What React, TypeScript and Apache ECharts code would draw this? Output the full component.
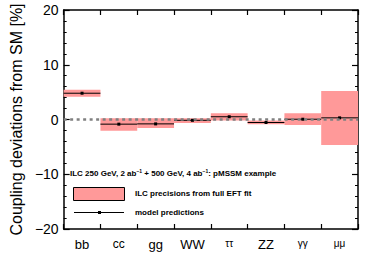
import React, { useEffect, useRef } from "react";
import * as echarts from "echarts";

const categories = ["bb", "cc", "gg", "WW", "ττ", "ZZ", "γγ", "μμ"];
const predictions = [4.8, -0.85, -0.8, -0.15, 0.5, -0.55, 0.05, 0.3];
const precisionLow = [4.15, -2.05, -1.55, -0.65, -0.2, -0.85, -1.0, -4.65];
const precisionHigh = [5.45, 0.25, 0.25, 0.25, 1.15, -0.2, 1.15, 5.2];
const yTicks = [-20, -10, 0, 10, 20];

const FONT = "Liberation Sans";
const small = new Set(["ττ", "γγ", "μμ"]);

export default function App() {
  const ref = useRef<HTMLDivElement>(null);
  useEffect(() => {
    if (!ref.current) return;
    const chart = echarts.init(ref.current, null, { renderer: "svg" });
    const boxData = categories.map((_, i) => [i, precisionLow[i], precisionHigh[i]]);
    const predData = categories.map((_, i) => [i, predictions[i]]);
    const axisLine = { show: true, onZero: false, lineStyle: { color: "#000", width: 1.5 } };
    chart.setOption({
      animation: false,
      textStyle: { fontFamily: FONT },
      grid: { left: 51, right: 7, top: 10, bottom: 28 },
      xAxis: [
        {
          type: "category",
          data: categories,
          position: "bottom",
          axisLine,
          axisTick: { show: true, inside: true, length: 5, lineStyle: { color: "#000", width: 1.2 } },
          axisLabel: {
            interval: 0,
            margin: 9,
            formatter: (v: string) =>
              small.has(v) ? `{s|${v}}` : v === "cc" ? `{c|${v}}` : `{n|${v}}`,
            rich: {
              n: { fontSize: 13, fontFamily: FONT, color: "#000" },
              c: { fontSize: 12, fontFamily: FONT, color: "#000", padding: [0, 0, 3, 0] },
              s: { fontSize: 10, fontFamily: FONT, color: "#000", padding: [0, 0, 4, 0] },
            },
          },
          splitLine: { show: false },
        },
        {
          type: "category",
          data: categories,
          position: "top",
          axisLine,
          axisTick: { show: true, inside: true, length: 5, lineStyle: { color: "#000", width: 1.2 } },
          axisLabel: { show: false },
          splitLine: { show: false },
        },
      ],
      yAxis: [
        {
          type: "value",
          min: yTicks[0],
          max: yTicks[yTicks.length - 1],
          interval: 10,
          position: "left",
          name: "Coupling deviations from SM [%]",
          nameLocation: "middle",
          nameGap: 38,
          nameTextStyle: { fontSize: 16, fontFamily: FONT, color: "#000" },
          axisLine,
          axisTick: { show: true, inside: true, length: 6, lineStyle: { color: "#000", width: 1.2 } },
          minorTick: { show: true, splitNumber: 5, length: 3, lineStyle: { color: "#000", width: 1 } },
          axisLabel: {
            fontSize: 14,
            color: "#000",
            margin: 5,
            formatter: (v: number) => String(v).replace("-", "\u2212"),
          },
          splitLine: { show: false },
        },
        {
          type: "value",
          min: yTicks[0],
          max: yTicks[yTicks.length - 1],
          interval: 10,
          position: "right",
          axisLine,
          axisTick: { show: true, inside: true, length: 6, lineStyle: { color: "#000", width: 1.2 } },
          minorTick: { show: true, splitNumber: 5, length: 3, lineStyle: { color: "#000", width: 1 } },
          axisLabel: { show: false },
          splitLine: { show: false },
        },
      ],
      series: [
        {
          type: "custom",
          name: "ILC precisions from full EFT fit",
          z: 2,
          data: boxData,
          renderItem: (params: any, api: any) => {
            const i = api.value(0);
            const lo = api.coord([i, api.value(1)]);
            const hi = api.coord([i, api.value(2)]);
            const bw = api.size([1, 0])[0];
            return {
              type: "rect",
              shape: { x: lo[0] - bw / 2, y: hi[1], width: bw, height: lo[1] - hi[1] },
              style: { fill: "#ff9999" },
            };
          },
        },
        {
          type: "line",
          name: "SM",
          z: 3,
          data: [],
          markLine: {
            silent: true,
            symbol: "none",
            label: { show: false },
            lineStyle: { color: "#808080", width: 2.5, type: [3, 3.5] },
            data: [{ yAxis: 0 }],
          },
        },
        {
          type: "custom",
          name: "model predictions",
          z: 4,
          data: predData,
          renderItem: (params: any, api: any) => {
            const i = api.value(0);
            const c = api.coord([i, api.value(1)]);
            const bw = api.size([1, 0])[0];
            return {
              type: "group",
              children: [
                {
                  type: "line",
                  shape: { x1: c[0] - bw / 2, y1: c[1], x2: c[0] + bw / 2, y2: c[1] },
                  style: { stroke: "#000", lineWidth: 1 },
                },
                {
                  type: "rect",
                  shape: { x: c[0] - 1.5, y: c[1] - 1.5, width: 3, height: 3 },
                  style: { fill: "#000" },
                },
              ],
            };
          },
        },
      ],
      graphic: [
        {
          type: "text",
          left: 70,
          top: 168,
          style: {
            text: "ILC 250 GeV, 2 ab{sup|−1} + 500 GeV, 4 ab{sup|−1}: pMSSM example",
            fontFamily: FONT,
            fontSize: 8,
            fontWeight: "bold",
            fill: "#000",
            rich: {
              sup: { fontSize: 5, fontWeight: "bold", fontFamily: FONT, padding: [0, 0, 5, 0] },
            },
          },
        },
        {
          type: "rect",
          shape: { x: 73.5, y: 187.5, width: 51, height: 13 },
          style: { fill: "#ff9999", stroke: "#000", lineWidth: 1 },
        },
        {
          type: "text",
          left: 135,
          top: 189,
          style: { text: "ILC precisions from full EFT fit", fontFamily: FONT, fontSize: 8, fontWeight: "bold", fill: "#000" },
        },
        {
          type: "line",
          shape: { x1: 74, y1: 212.5, x2: 124, y2: 212.5 },
          style: { stroke: "#000", lineWidth: 1 },
        },
        {
          type: "rect",
          shape: { x: 98, y: 211, width: 3, height: 3 },
          style: { fill: "#000" },
        },
        {
          type: "text",
          left: 135,
          top: 208,
          style: { text: "model predictions", fontFamily: FONT, fontSize: 8, fontWeight: "bold", fill: "#000" },
        },
      ],
    });
    return () => chart.dispose();
  }, []);
  return <div ref={ref} style={{ width: 365, height: 257, position: "absolute", left: 0, top: 0 }} />;
}
